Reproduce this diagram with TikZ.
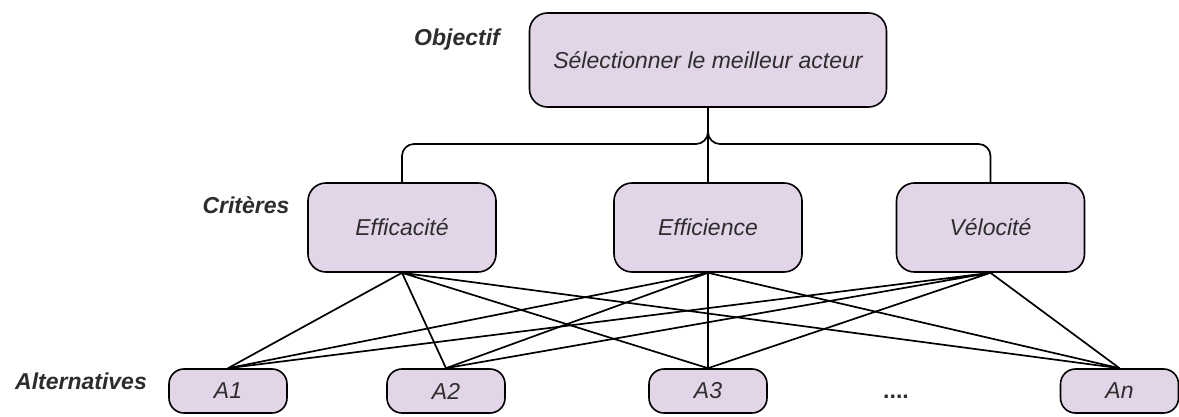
\documentclass[tikz,border=0pt]{standalone}
\usepackage{fontspec}
\setmainfont{Liberation Sans}
\usetikzlibrary{positioning}
\definecolor{lilacfill}{RGB}{225, 213, 231}
\definecolor{inkgray}{RGB}{45, 45, 45}

\begin{document}
\begin{tikzpicture}[x=1pt, y=-1pt,
                critbox/.style={draw=black, line width=1.6pt, rounded corners=18pt,
                    fill=lilacfill, minimum width=188pt, minimum height=89pt,
                    align=center, text=inkgray, font=\fontsize{23}{27}\selectfont\itshape},
                altbox/.style={critbox, rounded corners=15pt,
                    minimum width=118pt, minimum height=44pt},
                levellabel/.style={text=inkgray, font=\fontsize{23}{27}\selectfont\bfseries\itshape},
                link/.style={line width=1.7pt}
            ]
            \useasboundingbox (0, 0) rectangle (1179, 417);

            % Objectif
            \node[critbox, minimum width=357pt, minimum height=94pt] (objectif) at (708, 60)
                {S\'electionner le meilleur acteur};
            \node[levellabel] (lblobjectif) at (457, 40) {Objectif};

            % Criteres
            \node[critbox] (efficacite) at (402, 227.5) {Efficacit\'e};
            \node[critbox] (efficience) at (708, 227.5) {Efficience};
            \node[critbox] (velocite) at (990.5, 227.5) {V\'elocit\'e};
            \node[levellabel] (lblcriteres) at (246, 205) {Crit\`eres};

            % Alternatives
            \node[altbox] (a1) at (228, 391) {A1};
            \node[altbox] (a2) at (446, 391) {A2};
            \node[altbox] (a3) at (708, 391) {A3};
            \node[altbox] (an) at (1119.5, 391) {An};
            \node[text=inkgray, font=\fontsize{23}{27}\selectfont\bfseries] (dots) at (896, 397) {....};
            \node[levellabel] (lblalternatives) at (81, 381) {Alternatives};

            % objectif -> criteres
            \coordinate (hub) at (708, 144);
            \draw[link, rounded corners=12pt] (objectif.south) -- (hub) -| (efficacite.north);
            \draw[link, rounded corners=12pt] (objectif.south) -- (hub) -| (velocite.north);
            \draw[link] (objectif.south) -- (efficience.north);

            % criteres -> alternatives
            \draw[link] (efficacite.south) -- (a1.north) (efficacite.south) -- (a2.north)
                (efficacite.south) -- (a3.north) (efficacite.south) -- (an.north);
            \draw[link] (efficience.south) -- (a1.north) (efficience.south) -- (a2.north)
                (efficience.south) -- (a3.north) (efficience.south) -- (an.north);
            \draw[link] (velocite.south) -- (a1.north) (velocite.south) -- (a2.north)
                (velocite.south) -- (a3.north) (velocite.south) -- (an.north);

            \end{tikzpicture}
\end{document}
